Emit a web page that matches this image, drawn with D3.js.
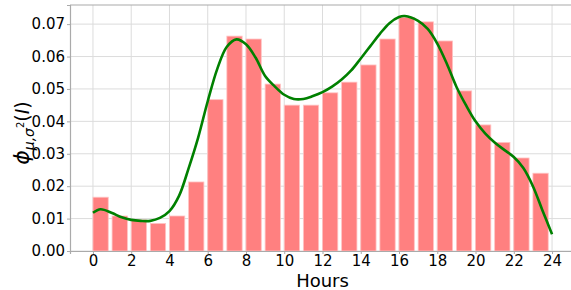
<!DOCTYPE html>
<html>
<head>
<meta charset="utf-8">
<script src="https://cdn.jsdelivr.net/npm/d3@7"></script>
<style>
  body { margin: 0; background: #fff; }
  text { font-family: "DejaVu Sans", sans-serif; }
</style>
</head>
<body>
<div id="chart"></div>
<script>
// hourly share (bars)
const hours = d3.range(0, 24);
const shares = [0.0166, 0.0108, 0.0096, 0.0085, 0.0108, 0.0213, 0.0467, 0.0663,
                0.0654, 0.0515, 0.0450, 0.0450, 0.0488, 0.0521, 0.0574, 0.0654,
                0.0721, 0.0707, 0.0648, 0.0494, 0.0389, 0.0335, 0.0287, 0.0240];

// fitted density (green line)
const curveHours = [0, 0.4, 1, 1.5, 2, 2.5, 3, 3.5, 4, 4.5, 5, 5.5, 6, 6.5, 7, 7.5,
                    8, 8.5, 9, 9.5, 10, 10.5, 11, 11.5, 12, 12.5, 13, 13.5, 14, 14.5,
                    15, 15.5, 16, 16.3, 17, 17.5, 18, 18.5, 19, 19.5, 20, 20.5, 21,
                    21.5, 22, 22.5, 23, 23.5, 24];
const density = [0.0118, 0.0129, 0.0117, 0.0104, 0.0096, 0.0093, 0.0093, 0.0102,
                 0.0123, 0.0170, 0.0255, 0.0350, 0.0462, 0.0562, 0.0630, 0.0653,
                 0.0638, 0.0597, 0.0540, 0.0508, 0.0482, 0.0469, 0.0469, 0.0478,
                 0.0490, 0.0507, 0.0529, 0.0557, 0.0594, 0.0632, 0.0670, 0.0703,
                 0.0722, 0.0725, 0.0710, 0.0685, 0.0640, 0.0578, 0.0507, 0.0450,
                 0.0400, 0.0363, 0.0335, 0.0312, 0.0290, 0.0256, 0.0200, 0.0125, 0.0052];

const xTicks = d3.range(0, 25, 2);
const yTicks = [0, 0.01, 0.02, 0.03, 0.04, 0.05, 0.06, 0.07];

const width = 571, height = 290;
const plotLeft = 70, plotTop = 5, plotBottom = 251, plotRight = 575;

const svg = d3.select('#chart').append('svg')
    .attr('width', width)
    .attr('height', height);

const x = d3.scaleLinear().domain([-1.2, 25.2]).range([plotLeft, plotRight]);
const y = d3.scaleLinear().domain([0, 0.0759]).range([plotBottom, plotTop]);

// grid
svg.append('g').selectAll('line').data(xTicks).enter().append('line')
    .attr('x1', d => x(d)).attr('x2', d => x(d))
    .attr('y1', plotTop).attr('y2', plotBottom)
    .attr('stroke', '#dcdcdc').attr('stroke-width', 1);
svg.append('g').selectAll('line').data(yTicks).enter().append('line')
    .attr('x1', plotLeft).attr('x2', plotRight)
    .attr('y1', d => y(d)).attr('y2', d => y(d))
    .attr('stroke', '#dcdcdc').attr('stroke-width', 1);

// bars (edge aligned, width 0.8)
svg.append('g').selectAll('rect').data(hours).enter().append('rect')
    .attr('x', d => x(d))
    .attr('width', x(0.8) - x(0))
    .attr('y', (d, i) => y(shares[i]))
    .attr('height', (d, i) => y(0) - y(shares[i]))
    .attr('fill', '#ff8080')
    .attr('stroke', '#ffc4c4')
    .attr('stroke-width', 0.8);

// density line
const line = d3.line()
    .x(d => x(d[0]))
    .y(d => y(d[1]))
    .curve(d3.curveCatmullRom);
svg.append('path')
    .datum(curveHours.map((h, i) => [h, density[i]]))
    .attr('d', line)
    .attr('fill', 'none')
    .attr('stroke', '#008000')
    .attr('stroke-width', 2.6);

// axes
const xAxis = svg.append('g')
    .attr('transform', `translate(0,${plotBottom})`)
    .call(d3.axisBottom(x).tickValues(xTicks).tickSize(3).tickPadding(1).tickFormat(d3.format('d')));
const yAxis = svg.append('g')
    .attr('transform', `translate(${plotLeft},0)`)
    .call(d3.axisLeft(y).tickValues(yTicks).tickSize(3).tickPadding(2).tickFormat(d3.format('.2f')));
[xAxis, yAxis].forEach(g => {
    g.select('.domain').attr('stroke', '#aaaaaa').attr('stroke-width', 1.2);
    g.selectAll('.tick line').attr('stroke', '#aaaaaa');
    g.selectAll('.tick text')
        .attr('fill', '#000')
        .style('font-family', '"DejaVu Sans", sans-serif')
        .style('font-size', '15px');
});

// top spine
svg.append('line')
    .attr('x1', plotLeft).attr('x2', plotRight)
    .attr('y1', plotTop).attr('y2', plotTop)
    .attr('stroke', '#aaaaaa').attr('stroke-width', 1.2);

// labels
svg.append('text')
    .attr('x', (plotLeft + plotRight) / 2)
    .attr('y', 286.5)
    .attr('text-anchor', 'middle')
    .style('font-size', '18px')
    .text('Hours');

const ylab = svg.append('text')
    .attr('transform', 'translate(29,133) rotate(-90)')
    .attr('text-anchor', 'middle')
    .style('font-size', '19px');
ylab.append('tspan').style('font-style', 'italic').style('font-size', '22px').text('\u03d5');
ylab.append('tspan').style('font-style', 'italic').style('font-size', '14px')
    .attr('dy', 5).text('\u03bc,\u03c3');
ylab.append('tspan').style('font-size', '10px').attr('dy', -10).text('2');
ylab.append('tspan').attr('dy', 5).text('(');
ylab.append('tspan').style('font-style', 'italic').text('I');
ylab.append('tspan').text(')');
</script>
</body>
</html>
